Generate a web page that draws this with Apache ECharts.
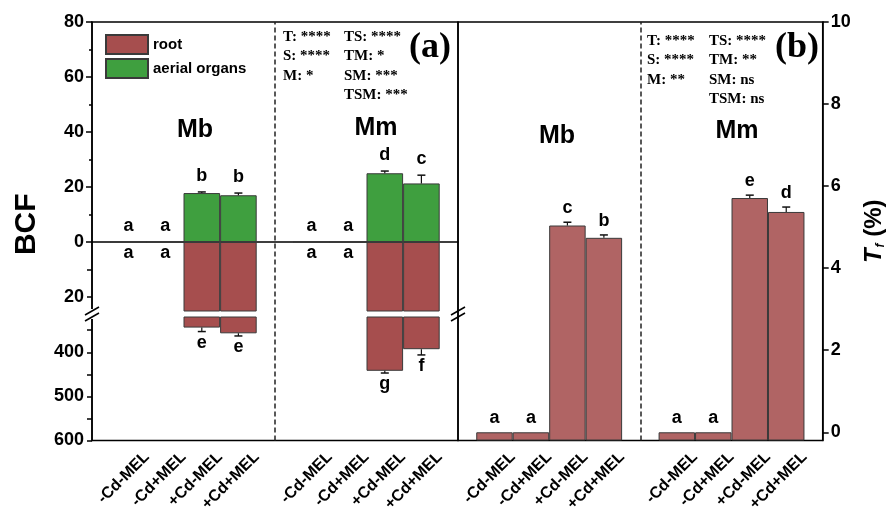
<!DOCTYPE html>
<html><head><meta charset="utf-8">
<script src="https://cdn.jsdelivr.net/npm/echarts@6/dist/echarts.min.js"></script>
<style>html,body{margin:0;padding:0;background:#fff}#c{width:894px;height:512px}</style>
</head><body><div id="c"></div>
<script>
// ---------------- data ----------------
const treatments = ['-Cd-MEL', '-Cd+MEL', '+Cd-MEL', '+Cd+MEL'];
const speciesNames = ['Mb', 'Mm'];
// BCF, aerial organs
const aerialMb = [0, 0, 17.8, 17.0];
const aerialMm = [0, 0, 25.0, 21.3];
const aerialErrMb = [0, 0, 0.4, 0.8];
const aerialErrMm = [0, 0, 0.8, 3.0];
const aerialLettersMb = ['a', 'a', 'b', 'b'];
const aerialLettersMm = ['a', 'a', 'd', 'c'];
// BCF, root
const rootMb = [0, 0, 344, 357];
const rootMm = [0, 0, 442, 393];
const rootErrMb = [0, 0, 9, 6];
const rootErrMm = [0, 0, 5, 13];
const rootLettersMb = ['a', 'a', 'e', 'e'];
const rootLettersMm = ['a', 'a', 'g', 'f'];
// Tf (%)
const tfMb = [0, 0, 5.04, 4.74];
const tfMm = [0, 0, 5.71, 5.37];
const tfErrMb = [0, 0, 0.08, 0.07];
const tfErrMm = [0, 0, 0.07, 0.12];
const tfLettersMb = ['a', 'a', 'c', 'b'];
const tfLettersMm = ['a', 'a', 'e', 'd'];
// tick labels
const bcfAerialTicks = [0, 20, 40, 60, 80];
const bcfRootUpperTicks = [20];
const bcfRootUpperMinor = [10, 20];
const bcfRootLowerTicks = [400, 500, 600];
const bcfRootLowerMinor = [350, 400, 450, 500, 550, 600];
const tfTicks = [0, 2, 4, 6, 8, 10];
// statistics text
const statsA = [['T: ****', 'TS: ****'], ['S: ****', 'TM: *'], ['M: *', 'SM: ***'], ['', 'TSM: ***']];
const statsB = [['T: ****', 'TS: ****'], ['S: ****', 'TM: **'], ['M: **', 'SM: ns'], ['', 'TSM: ns']];

// ---------------- layout / style ----------------
const SANS = '"Liberation Sans", Arial, sans-serif';
const SERIF = '"Liberation Serif", "Times New Roman", serif';
const LAY = { aLeft: 92, aWidth: 366, bLeft: 458, bWidth: 364.7, top: 22, zeroY: 242, brkTop: 311, brkBot: 317, bottom: 440.5 };
const C = { root: '#a64e4e', aerial: '#3f9f3f', tf: '#b06464', border: '#3a3a3a' };

function slots(a, b, empty) { return [empty, ...a, empty, ...b, empty]; }
const barSlots = slots(treatments, treatments, '');
const labelSlots = ['', ...treatments, '', ...treatments];
function errItems(vMb, vMm, eMb, eMm) {
  const v = slots(vMb, vMm, null), e = slots(eMb, eMm, null), out = [];
  v.forEach((val, i) => { if (val !== null) out.push([i, val, e[i]]); });
  return out;
}
function errRender(letters, dir, gap, range) {
  return function (params, api) {
    const x = api.value(0), v = api.value(1), e = api.value(2);
    if (range && (v < range[0] || v > range[1])) return null;
    const p0 = api.coord([x, v]);
    const p1 = api.coord([x, v + e]);
    const ch = [];
    if (e > 0) {
      ch.push({ type: 'line', shape: { x1: p0[0], y1: p0[1], x2: p1[0], y2: p1[1] }, style: { stroke: '#111', lineWidth: 1.2 } });
      ch.push({ type: 'line', shape: { x1: p1[0] - 4, y1: p1[1], x2: p1[0] + 4, y2: p1[1] }, style: { stroke: '#111', lineWidth: 1.5 } });
    }
    ch.push({ type: 'text', x: p1[0], y: p1[1] + dir * gap, style: {
      text: letters[params.dataIndex], align: 'center', verticalAlign: dir < 0 ? 'bottom' : 'top',
      font: 'bold 18px ' + SANS, fill: '#000' } });
    return { type: 'group', children: ch };
  };
}

const axisLabelStyle = { color: '#000', fontSize: 18, fontWeight: 'bold', fontFamily: SANS };
const blackLine = { show: true, lineStyle: { color: '#000', width: 1.5 } };
const barCommon = { type: 'bar', barWidth: '100%', barGap: '-100%', itemStyle: { borderColor: C.border, borderWidth: 1 } };
function hiddenX(grid) { return { type: 'category', gridIndex: grid, data: barSlots, boundaryGap: false, axisLine: { show: false }, axisTick: { show: false }, axisLabel: { show: false }, splitLine: { show: false } }; }
function labelX(grid) {
  return { type: 'category', gridIndex: grid, position: 'bottom', data: labelSlots, boundaryGap: true,
    axisLine: { show: false, onZero: false }, axisTick: { show: false }, splitLine: { show: false },
    axisLabel: { interval: 0, rotate: 45, margin: 14, color: '#000', fontSize: 16, fontWeight: 'bold', fontFamily: SANS } };
}
function gridBox(left, top, width, height, frame) {
  const g = { left, top, width, height, outerBoundsMode: 'none', containLabel: false };
  if (frame) Object.assign(g, { show: true, borderColor: '#000', borderWidth: 1.5 });
  return g;
}

const chart = echarts.init(document.getElementById('c'));
const dashed = { symbol: 'none', silent: true, label: { show: false }, lineStyle: { color: '#222', width: 1.5, type: [5, 3] }, data: [{ xAxis: 5 }] };

const graphics = [];
// break marks
[LAY.aLeft, LAY.aLeft + LAY.aWidth].forEach((x, k) => {
  const yc = (LAY.brkTop + LAY.brkBot) / 2;
  if (k === 0) graphics.push({ type: 'rect', z: 100, shape: { x: x - 3, y: yc - 5, width: 6, height: 10 }, style: { fill: '#fff' } });
  [-3, 3].forEach(d => graphics.push({ type: 'line', z: 101, shape: { x1: x - 7, y1: yc + d + 4, x2: x + 7, y2: yc + d - 4 }, style: { stroke: '#000', lineWidth: 1.5 } }));
});
// species headings
[[195, 130], [376, 128], [557, 136], [737, 131]].forEach((p, i) => graphics.push({ type: 'text', x: p[0], y: p[1], z: 50,
  style: { text: speciesNames[i % 2], align: 'center', verticalAlign: 'middle', font: 'bold 25px ' + SANS, fill: '#000' } }));
// stats
function addStats(stats, x1, x2, y0) {
  stats.forEach((row, r) => row.forEach((t, c) => graphics.push({ type: 'text', x: c ? x2 : x1, y: y0 + r * 19.5, z: 50,
    style: { text: t, align: 'left', verticalAlign: 'middle', font: 'bold 15px ' + SERIF, fill: '#000' } })));
}
addStats(statsA, 283, 344, 37);
addStats(statsB, 647, 709, 41);
[['(a)', 430, 48], ['(b)', 797, 48]].forEach(p => graphics.push({ type: 'text', x: p[1], y: p[2], z: 50,
  style: { text: p[0], align: 'center', verticalAlign: 'middle', font: 'bold 36px ' + SERIF, fill: '#000' } }));

chart.setOption({
  animation: false,
  backgroundColor: '#fff',
  textStyle: { fontFamily: SANS },
  legend: { data: ['root', 'aerial organs'], orient: 'vertical', left: 100, top: 29, itemWidth: 42, itemHeight: 19, itemGap: 3, icon: 'rect',
    textStyle: { color: '#000', fontSize: 15, fontWeight: 'bold', fontFamily: SANS }, selectedMode: false },
  grid: [
    gridBox(LAY.aLeft, LAY.top, LAY.aWidth, LAY.bottom - LAY.top, true),
    gridBox(LAY.aLeft, LAY.top, LAY.aWidth, LAY.zeroY - LAY.top),
    gridBox(LAY.aLeft, LAY.zeroY, LAY.aWidth, LAY.brkTop - LAY.zeroY),
    gridBox(LAY.aLeft, LAY.brkBot, LAY.aWidth, LAY.bottom - LAY.brkBot),
    gridBox(LAY.bLeft, LAY.top, LAY.bWidth, LAY.bottom - LAY.top, true)
  ],
  xAxis: [
    hiddenX(0),
    Object.assign(hiddenX(1), { axisLine: blackLine }),
    hiddenX(2),
    hiddenX(3),
    labelX(3),
    hiddenX(4),
    labelX(4)
  ],
  yAxis: [
    { type: 'value', gridIndex: 0, min: 0, max: 1, axisLine: { show: false }, axisTick: { show: false }, axisLabel: { show: false }, splitLine: { show: false },
      name: 'BCF', nameLocation: 'middle', nameGap: 50, nameTextStyle: { color: '#000', fontSize: 30, fontWeight: 'bold', fontFamily: SANS, padding: [0, 0, 0, 14] } },
    { type: 'value', gridIndex: 1, min: 0, max: 80, interval: 20, axisLine: blackLine,
      axisTick: { show: true, length: 6, lineStyle: { color: '#000', width: 1.5 } },
      minorTick: { show: true, splitNumber: 2, length: 3, lineStyle: { color: '#000', width: 1.5 } },
      axisLabel: Object.assign({ margin: 8, customValues: bcfAerialTicks }, axisLabelStyle), splitLine: { show: false } },
    { type: 'value', gridIndex: 2, inverse: true, min: 0, max: 25, axisLine: blackLine,
      axisTick: { show: true, length: 5, customValues: bcfRootUpperMinor, lineStyle: { color: '#000', width: 1.5 } },
      axisLabel: Object.assign({ margin: 8, customValues: bcfRootUpperTicks }, axisLabelStyle), splitLine: { show: false } },
    { type: 'value', gridIndex: 3, inverse: true, min: 320, max: 600, axisLine: blackLine,
      axisTick: { show: true, length: 5, customValues: bcfRootLowerMinor, lineStyle: { color: '#000', width: 1.5 } },
      axisLabel: Object.assign({ margin: 8, customValues: bcfRootLowerTicks }, axisLabelStyle), splitLine: { show: false } },
    { type: 'value', gridIndex: 4, position: 'right', min: -0.2, max: 10, startValue: -0.2, axisLine: blackLine,
      axisTick: { show: true, length: 6, customValues: tfTicks, lineStyle: { color: '#000', width: 1.5 } },
      axisLabel: Object.assign({ margin: 8, customValues: tfTicks }, axisLabelStyle), splitLine: { show: false },
      name: '{t|T}{f|f}{p| (%)}', nameLocation: 'middle', nameGap: 40, nameRotate: 90,
      nameTextStyle: { rich: {
        t: { fontSize: 24, fontWeight: 'bold', fontStyle: 'italic', fontFamily: SANS, color: '#000' },
        f: { fontSize: 12, fontWeight: 'bold', fontStyle: 'italic', fontFamily: SANS, color: '#000', verticalAlign: 'bottom', padding: [12, 0, 0, 1] },
        p: { fontSize: 24, fontWeight: 'bold', fontFamily: SANS, color: '#000' } } } }
  ],
  series: [
    { type: 'bar', name: 'frame', xAxisIndex: 0, yAxisIndex: 0, data: barSlots.map(() => '-'), markLine: dashed, silent: true },
    Object.assign({}, barCommon, { name: 'aerial organs', xAxisIndex: 1, yAxisIndex: 1, data: slots(aerialMb, aerialMm, '-'),
      itemStyle: { color: C.aerial, borderColor: C.border, borderWidth: 1 } }),
    Object.assign({}, barCommon, { name: 'root', xAxisIndex: 2, yAxisIndex: 2, data: slots(rootMb, rootMm, '-'),
      itemStyle: { color: C.root, borderColor: C.border, borderWidth: 1 } }),
    Object.assign({}, barCommon, { name: 'root', xAxisIndex: 3, yAxisIndex: 3, data: slots(rootMb, rootMm, '-'),
      itemStyle: { color: C.root, borderColor: C.border, borderWidth: 1 } }),
    Object.assign({}, barCommon, { name: 'Tf', xAxisIndex: 5, yAxisIndex: 4, data: slots(tfMb, tfMm, '-'),
      itemStyle: { color: C.tf, borderColor: C.border, borderWidth: 1 }, markLine: dashed }),
    { type: 'custom', name: 'aerialErr', xAxisIndex: 1, yAxisIndex: 1, z: 5, encode: { x: 0, y: 1 },
      data: errItems(aerialMb, aerialMm, aerialErrMb, aerialErrMm), renderItem: errRender([...aerialLettersMb, ...aerialLettersMm], -1, 7) },
    { type: 'custom', name: 'rootErrU', xAxisIndex: 2, yAxisIndex: 2, z: 5, encode: { x: 0, y: 1 },
      data: errItems(rootMb, rootMm, rootErrMb, rootErrMm), renderItem: errRender([...rootLettersMb, ...rootLettersMm], 1, 2, [0, 25]) },
    { type: 'custom', name: 'rootErrL', xAxisIndex: 3, yAxisIndex: 3, z: 5, encode: { x: 0, y: 1 },
      data: errItems(rootMb, rootMm, rootErrMb, rootErrMm), renderItem: errRender([...rootLettersMb, ...rootLettersMm], 1, 2, [320, 600]) },
    { type: 'custom', name: 'tfErr', xAxisIndex: 5, yAxisIndex: 4, z: 5, encode: { x: 0, y: 1 },
      data: errItems(tfMb, tfMm, tfErrMb, tfErrMm), renderItem: errRender([...tfLettersMb, ...tfLettersMm], -1, 5) }
  ],
  graphic: graphics
});
</script></body></html>
